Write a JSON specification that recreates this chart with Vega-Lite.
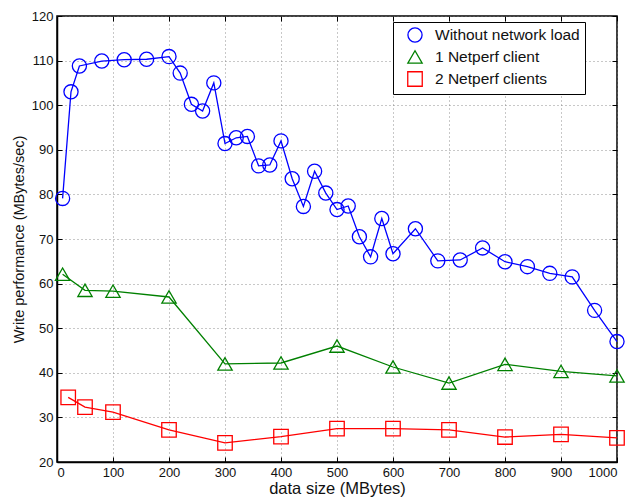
{
  "$schema": "https://vega.github.io/schema/vega-lite/v6.json",
  "width": 560,
  "height": 446,
  "autosize": {"type": "none"},
  "padding": {"left": 57, "top": 16, "right": 13, "bottom": 35},
  "background": "white",
  "config": {
    "font": "Liberation Sans",
    "view": {"stroke": "black", "strokeWidth": 1.5},
    "axis": {
      "labelFont": "Liberation Sans",
      "titleFont": "Liberation Sans",
      "labelFontSize": 13,
      "labelColor": "#111111",
      "titleColor": "#111111",
      "titleFontWeight": "normal",
      "domainColor": "black",
      "domainWidth": 1.5,
      "tickColor": "black",
      "tickSize": -5,
      "tickWidth": 1,
      "gridColor": "#777777",
      "gridDash": [1, 3],
      "gridWidth": 1,
      "gridOpacity": 0.8
    },
    "legend": {
      "labelFont": "Liberation Sans",
      "labelFontSize": 15.5,
      "labelColor": "#111111"
    }
  },
  "data": {
    "values": [
      {"series": "Without network load", "x": 10, "y": 79.1},
      {"series": "Without network load", "x": 25, "y": 103.0},
      {"series": "Without network load", "x": 40, "y": 108.8},
      {"series": "Without network load", "x": 80, "y": 109.9},
      {"series": "Without network load", "x": 120, "y": 110.2},
      {"series": "Without network load", "x": 160, "y": 110.3},
      {"series": "Without network load", "x": 200, "y": 110.9},
      {"series": "Without network load", "x": 220, "y": 107.2},
      {"series": "Without network load", "x": 240, "y": 100.2},
      {"series": "Without network load", "x": 260, "y": 98.7},
      {"series": "Without network load", "x": 280, "y": 105.0},
      {"series": "Without network load", "x": 300, "y": 91.4},
      {"series": "Without network load", "x": 320, "y": 92.7},
      {"series": "Without network load", "x": 340, "y": 93.0},
      {"series": "Without network load", "x": 360, "y": 86.4},
      {"series": "Without network load", "x": 380, "y": 86.6},
      {"series": "Without network load", "x": 400, "y": 92.0},
      {"series": "Without network load", "x": 420, "y": 83.5},
      {"series": "Without network load", "x": 440, "y": 77.3},
      {"series": "Without network load", "x": 460, "y": 85.2},
      {"series": "Without network load", "x": 480, "y": 80.3},
      {"series": "Without network load", "x": 500, "y": 76.6},
      {"series": "Without network load", "x": 520, "y": 77.4},
      {"series": "Without network load", "x": 540, "y": 70.5},
      {"series": "Without network load", "x": 560, "y": 66.0},
      {"series": "Without network load", "x": 580, "y": 74.6},
      {"series": "Without network load", "x": 600, "y": 66.7},
      {"series": "Without network load", "x": 640, "y": 72.3},
      {"series": "Without network load", "x": 680, "y": 65.1},
      {"series": "Without network load", "x": 720, "y": 65.3},
      {"series": "Without network load", "x": 760, "y": 68.0},
      {"series": "Without network load", "x": 800, "y": 64.9},
      {"series": "Without network load", "x": 840, "y": 63.8},
      {"series": "Without network load", "x": 880, "y": 62.3},
      {"series": "Without network load", "x": 920, "y": 61.5},
      {"series": "Without network load", "x": 960, "y": 54.0},
      {"series": "Without network load", "x": 1000, "y": 47.0},
      {"series": "1 Netperf client", "x": 10, "y": 62.1},
      {"series": "1 Netperf client", "x": 50, "y": 58.5},
      {"series": "1 Netperf client", "x": 100, "y": 58.3},
      {"series": "1 Netperf client", "x": 200, "y": 57.0},
      {"series": "1 Netperf client", "x": 300, "y": 42.0},
      {"series": "1 Netperf client", "x": 400, "y": 42.2},
      {"series": "1 Netperf client", "x": 500, "y": 46.0},
      {"series": "1 Netperf client", "x": 600, "y": 41.3},
      {"series": "1 Netperf client", "x": 700, "y": 37.7},
      {"series": "1 Netperf client", "x": 800, "y": 41.9},
      {"series": "1 Netperf client", "x": 900, "y": 40.3},
      {"series": "1 Netperf client", "x": 1000, "y": 39.3},
      {"series": "2 Netperf clients", "x": 20, "y": 34.5},
      {"series": "2 Netperf clients", "x": 50, "y": 32.3},
      {"series": "2 Netperf clients", "x": 100, "y": 31.2},
      {"series": "2 Netperf clients", "x": 200, "y": 27.2},
      {"series": "2 Netperf clients", "x": 300, "y": 24.3},
      {"series": "2 Netperf clients", "x": 400, "y": 25.7},
      {"series": "2 Netperf clients", "x": 500, "y": 27.5},
      {"series": "2 Netperf clients", "x": 600, "y": 27.5},
      {"series": "2 Netperf clients", "x": 700, "y": 27.2},
      {"series": "2 Netperf clients", "x": 800, "y": 25.6},
      {"series": "2 Netperf clients", "x": 900, "y": 26.2},
      {"series": "2 Netperf clients", "x": 1000, "y": 25.4}
    ]
  },
  "resolve": {"axis": {"x": "independent", "y": "independent"}},
  "layer": [
    {
      "mark": {"type": "line", "strokeWidth": 1.3},
      "encoding": {
        "x": {"field": "x", "type": "quantitative",
          "scale": {"domain": [0, 1000], "nice": false, "zero": false},
          "axis": {"orient": "bottom", "format": "d", "values": [0,100,200,300,400,500,600,700,800,900,1000], "title": "data size (MBytes)", "titleFontSize": 16.5, "titlePadding": 1, "labelPadding": 9, "grid": true}},
        "y": {"field": "y", "type": "quantitative",
          "scale": {"domain": [20, 120], "nice": false, "zero": false},
          "axis": {"orient": "left", "values": [20,30,40,50,60,70,80,90,100,110,120], "title": "Write performance (MBytes/sec)", "titleFontSize": 14.5, "titlePadding": 5, "labelPadding": 9, "grid": true}},
        "color": {"field": "series", "type": "nominal",
          "scale": {"domain": ["Without network load", "1 Netperf client", "2 Netperf clients"], "range": ["#0000FF", "#008000", "#FF0000"]},
          "legend": {"orient": "none", "legendX": 336, "legendY": 6, "title": null, "strokeColor": "black", "fillColor": "white", "padding": 5, "rowPadding": 3, "symbolStrokeWidth": 1.3, "symbolSize": 150, "symbolOffset": 9, "labelOffset": 12}},
        "detail": {"field": "series"}
      }
    },
    {
      "mark": {"type": "point", "filled": false, "strokeWidth": 1.3, "opacity": 1},
      "encoding": {
        "x": {"field": "x", "type": "quantitative", "axis": {"orient": "top", "values": [0,100,200,300,400,500,600,700,800,900,1000], "labels": false, "title": null, "grid": false, "domain": false}},
        "y": {"field": "y", "type": "quantitative", "axis": {"orient": "right", "values": [20,30,40,50,60,70,80,90,100,110,120], "labels": false, "title": null, "grid": false, "domain": false}},
        "color": {"field": "series", "type": "nominal"},
        "shape": {"field": "series", "type": "nominal",
          "scale": {"domain": ["Without network load", "1 Netperf client", "2 Netperf clients"], "range": ["circle", "triangle-up", "square"]}},
        "size": {"field": "series", "type": "nominal",
          "scale": {"domain": ["Without network load", "1 Netperf client", "2 Netperf clients"], "range": [200, 210, 125]}, "legend": null}
      }
    }
  ]
}
